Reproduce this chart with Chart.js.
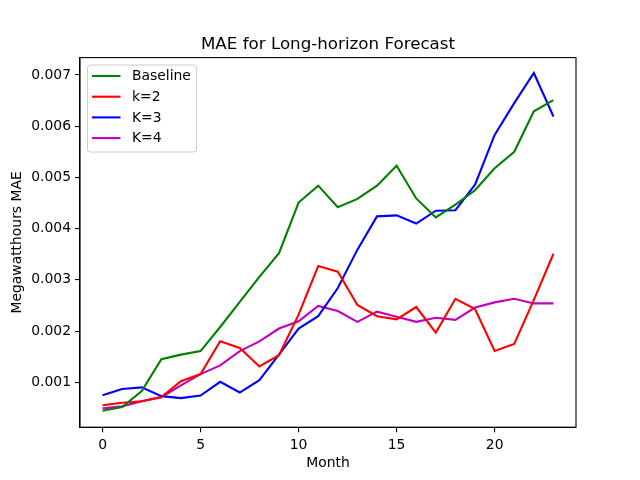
<!DOCTYPE html>
<html>
<head>
<meta charset="utf-8">
<script src="https://cdn.jsdelivr.net/npm/chart.js@4/dist/chart.umd.min.js"></script>
<style>
html,body{margin:0;padding:0;background:#fff;}
#wrap{width:640px;height:480px;position:relative;}
</style>
</head>
<body>
<div id="wrap"><canvas id="c" width="640" height="480"></canvas></div>
<script>
const months = [0,1,2,3,4,5,6,7,8,9,10,11,12,13,14,15,16,17,18,19,20,21,22,23];
const baseline = [0.000445,0.000515,0.00083,0.00145,0.00154,0.00161,0.00208,0.00257,0.00306,0.00352,0.00451,0.00484,0.00442,0.00458,0.00484,0.00523,0.00459,0.00422,0.00447,0.00475,0.00518,0.0055,0.00629,0.00651];
const k2 = [0.00055,0.0006,0.00063,0.00071,0.00102,0.00116,0.0018,0.00167,0.00131,0.00153,0.00232,0.00327,0.00316,0.00251,0.00229,0.00223,0.00247,0.00197,0.00263,0.00243,0.00161,0.00175,0.00261,0.00351];
const k3 = [0.000745,0.00087,0.0009,0.00073,0.00069,0.00074,0.00101,0.0008,0.00104,0.00154,0.00205,0.00229,0.00284,0.00359,0.00424,0.00426,0.0041,0.00435,0.00436,0.00486,0.00583,0.00645,0.00704,0.00619];
const k4 = [0.00049,0.00053,0.00063,0.00071,0.00094,0.00116,0.00133,0.00161,0.0018,0.00205,0.00219,0.00249,0.00239,0.00218,0.00238,0.00228,0.00218,0.00226,0.00222,0.00246,0.00256,0.00263,0.00254,0.00254];
const seriesLabels = ['Baseline','k=2','K=3','K=4'];
const seriesColors = ['#008000','#ff0000','#0000ff','#bf00bf'];
const xTicks = [0,5,10,15,20];
const yTicks = [0.001,0.002,0.003,0.004,0.005,0.006,0.007];
const titleText = 'MAE for Long-horizon Forecast';
const xTitle = 'Month';
const yTitle = 'Megawatthours MAE';

const FONT = 'DejaVu Sans';
const allSeries = [baseline,k2,k3,k4];

const datasets = allSeries.map((s,i)=>({
  label: seriesLabels[i],
  data: months.map((m,j)=>({x:m,y:s[j]})),
  borderColor: seriesColors[i],
  backgroundColor: seriesColors[i],
  borderWidth: 2.1,
  pointRadius: 0,
  tension: 0,
  fill: false
}));

const framePlugin = {
  id:'frame',
  afterDraw(chart){
    const {ctx, chartArea:a} = chart;
    ctx.save();
    ctx.strokeStyle = '#000';
    ctx.lineWidth = 1.1;
    ctx.strokeRect(a.left, a.top, a.right-a.left, a.bottom-a.top);
    // title
    ctx.fillStyle = '#000';
    ctx.font = '16.7px "' + FONT + '"';
    ctx.textAlign = 'center';
    ctx.textBaseline = 'alphabetic';
    ctx.fillText(titleText, (a.left+a.right)/2, 48.5);
    // legend
    const lx = 87.5, ly = 65, lw = 109, lh = 87;
    ctx.globalAlpha = 0.8;
    ctx.fillStyle = '#fff';
    ctx.beginPath();
    if (ctx.roundRect) ctx.roundRect(lx, ly, lw, lh, 3); else ctx.rect(lx,ly,lw,lh);
    ctx.fill();
    ctx.globalAlpha = 1;
    ctx.strokeStyle = '#cccccc';
    ctx.lineWidth = 1;
    ctx.stroke();
    ctx.font = '13.9px "' + FONT + '"';
    ctx.textAlign = 'left';
    ctx.textBaseline = 'middle';
    chart.data.datasets.forEach((ds,i)=>{
      const y = 76 + i*20.7;
      ctx.strokeStyle = ds.borderColor;
      ctx.lineWidth = 2.1;
      ctx.beginPath();
      ctx.moveTo(92, y);
      ctx.lineTo(120.5, y);
      ctx.stroke();
      ctx.fillStyle = '#000';
      ctx.fillText(ds.label, 132, y+0.5);
    });
    ctx.restore();
  }
};

new Chart(document.getElementById('c'), {
  type:'line',
  data:{datasets},
  options:{
    responsive:false,
    animation:false,
    devicePixelRatio:1,
    layout:{padding:{top:57.6,right:64,left:0,bottom:0}},
    plugins:{legend:{display:false},title:{display:false},tooltip:{enabled:false}},
    scales:{
      x:{
        type:'linear',
        min:-1.15, max:24.15,
        afterBuildTicks(scale){ scale.ticks = xTicks.map(v=>({value:v})); },
        afterFit(scale){ scale.height = 52.8; },
        grid:{display:true, drawOnChartArea:false, drawTicks:true, tickLength:5, color:'#000', lineWidth:1.1},
        border:{display:true,color:'#000',width:1.1},
        ticks:{color:'#000', font:{family:FONT,size:13.9}, padding:5, maxRotation:0, callback:(v)=>String(v)},
        title:{display:true,text:xTitle,color:'#000',font:{family:FONT,size:13.9},padding:{top:0,bottom:8.5}}
      },
      y:{
        type:'linear',
        min:0.000123, max:0.00734,
        afterBuildTicks(scale){ scale.ticks = yTicks.map(v=>({value:v})); },
        afterFit(scale){ scale.width = 80; },
        grid:{display:true, drawOnChartArea:false, drawTicks:true, tickLength:5, color:'#000', lineWidth:1.1},
        border:{display:true,color:'#000',width:1.1},
        ticks:{color:'#000', font:{family:FONT,size:13.9}, padding:4, callback:(v)=>v.toFixed(3)},
        title:{display:true,text:yTitle,color:'#000',font:{family:FONT,size:13.9},padding:{top:9,bottom:0}}
      }
    }
  },
  plugins:[framePlugin]
});
</script>
</body>
</html>
